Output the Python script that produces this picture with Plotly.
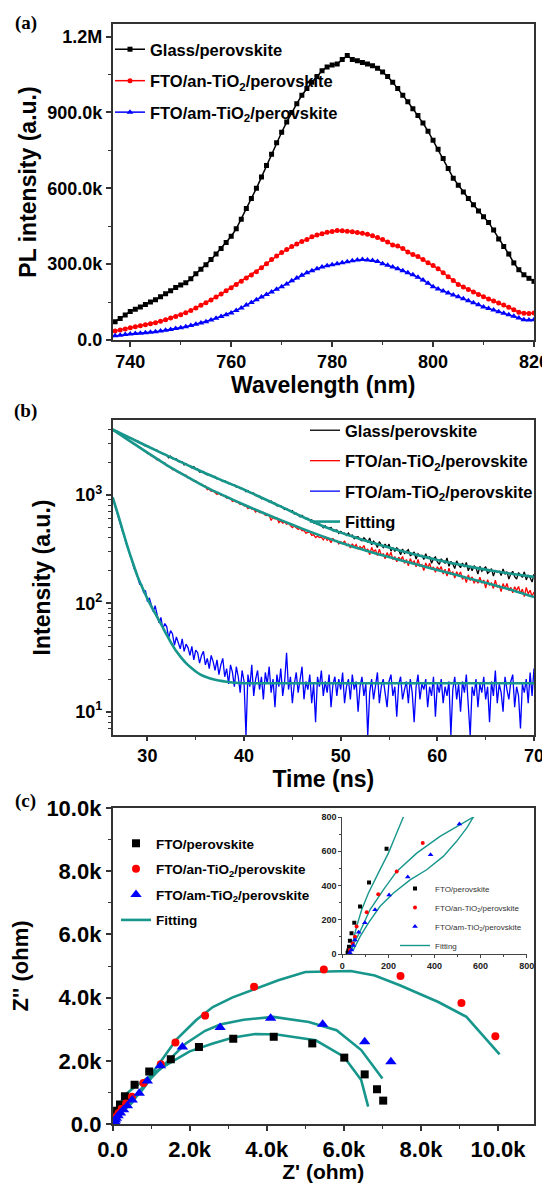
import numpy as np
import plotly.graph_objects as go

PAGE_W, PAGE_H = 550, 1183
OFF = 8                      # default <body> margin of the written html page
W, H = PAGE_W - OFF, PAGE_H - OFF
SANS = "Liberation Sans, Arial, sans-serif"
SERIF = "Liberation Serif, Times New Roman, serif"
TEAL = "#17968c"
AX = "#333333"

# ---------------- (a) steady-state PL ----------------
wavelength = list(range(736, 821))
pl_glass_k = [62, 72, 85, 99, 113, 122, 131, 140, 150, 159, 171, 183, 195, 208, 218, 226, 242, 262, 280, 298,
              318, 340, 362, 386, 410, 440, 478, 520, 560, 600, 645, 690, 735, 780, 822, 862, 900, 935, 968, 995,
              1020, 1042, 1065, 1080, 1088, 1092, 1110, 1125, 1110, 1105, 1098, 1092, 1085, 1075, 1060, 1042, 1020, 995, 968, 942,
              915, 888, 858, 826, 790, 755, 718, 678, 640, 612, 585, 560, 535, 510, 488, 465, 435, 400, 370, 340,
              305, 278, 258, 244, 232]
pl_an_k = [32, 36, 40, 44, 48, 52, 56, 60, 64, 68, 74, 80, 87, 93, 100, 108, 117, 127, 137, 147,
           158, 170, 182, 195, 207, 220, 232, 245, 257, 270, 286, 302, 318, 332, 346, 358, 370, 380, 390, 398,
           408, 415, 420, 426, 429, 433, 432, 430, 428, 425, 422, 418, 412, 405, 398, 388, 376, 372, 362, 348,
           338, 330, 318, 306, 295, 282, 266, 250, 235, 220, 210, 200, 190, 180, 171, 162, 154, 146, 138, 130,
           120, 110, 106, 105, 107]
pl_am_k = [14, 17, 19, 22, 24, 26, 27, 29, 31, 33, 36, 39, 42, 45, 48, 52, 57, 62, 67, 72,
           79, 86, 93, 100, 107, 117, 127, 138, 148, 159, 170, 180, 190, 201, 211, 222, 234, 245, 256, 266,
           274, 282, 289, 294, 298, 302, 306, 310, 313, 316, 318, 316, 314, 311, 302, 296, 289, 282, 274, 266,
           258, 248, 237, 224, 211, 202, 194, 186, 178, 171, 163, 155, 147, 139, 131, 125, 119, 112, 106, 100,
           94, 87, 80, 79, 80]

# ---------------- (b) TRPL ----------------
time_start, time_step = 26.4, 0.2
trpl_glass = [4000, 3887, 3897, 3759, 3725, 3571, 3559, 3522, 3397, 3310, 3315, 3231, 3144, 3143, 3004, 2995, 2915, 2823, 2840, 2752, 2678, 2669, 2586, 2577, 2464, 2456, 2375, 2369,
              2314, 2195, 2268, 2159, 2151, 2148, 2027, 2014, 2018, 1892, 1931, 1872, 1854, 1771, 1817, 1725, 1729, 1621, 1645, 1643, 1560,
              1527, 1544, 1505, 1464, 1477, 1403, 1409, 1372, 1327, 1348, 1304, 1269, 1275, 1233, 1239, 1177, 1182, 1141, 1147, 1118,
              1068, 1094, 1047, 1040, 1037, 985, 976, 975, 921, 933, 907, 897, 860, 877, 837, 836, 790, 797, 794, 758,
              732, 749, 727, 702, 716, 667, 676, 654, 626, 646, 619, 598, 607, 581, 589, 549, 557, 532, 539, 523, 496,
              519, 491, 494, 500, 467, 469, 475, 441, 460, 445, 444, 422, 444, 418, 425, 393, 407, 411, 387, 376,
              402, 385, 366, 400, 346, 373, 354, 327, 370, 344, 326, 351, 326, 351, 302, 327, 301, 324, 310, 280, 317,
              289, 299, 312, 275, 282, 297, 256, 286, 273, 277, 253, 286, 257, 271, 234, 256, 267, 240, 228, 257,
              247, 233, 262, 219, 243, 230, 209, 246, 226, 213, 235, 216, 238, 199, 220, 199, 222, 211, 186, 219, 197,
              206, 217, 189, 196, 209, 178, 202, 193, 198, 180, 207, 185, 196, 167, 187, 197, 176, 167, 192, 184, 173, 195, 164, 182, 172, 157, 186]
trpl_an = [4000, 3933, 3764, 3641, 3617, 3498, 3379, 3352, 3179, 3145, 3037, 2920, 2915, 2802, 2706, 2677, 2573, 2545,
           2397, 2401, 2286, 2289, 2208, 2091, 2127, 2021, 1993, 1971, 1858, 1828, 1813, 1701,
           1722, 1650, 1600, 1608, 1560, 1510, 1515, 1432, 1431, 1384, 1332, 1347, 1296, 1255, 1254, 1206, 1206,
           1116, 1126, 1080, 1090, 1058, 1010, 1034, 991, 984, 980, 930, 922, 921, 870, 882, 858, 848, 813, 828, 791,
           795, 746, 770, 736, 733, 694, 721, 685, 683, 687, 646, 644, 648, 580, 621, 598, 611, 555, 577, 548, 562,
           535, 548, 520, 499, 516, 499, 480, 492, 466, 470, 443, 451, 454, 423, 430, 403, 418, 403, 407, 385,
           409, 380, 391, 362, 397, 372, 379, 352, 369, 355, 375, 340, 350, 324, 353, 331, 348, 315, 334, 319,
           341, 302, 317, 280, 328, 297, 312, 275, 316, 277, 286, 257, 293, 267, 296, 253, 270, 241, 266, 250, 270,
           233, 253, 221, 258, 234, 245, 217, 253, 220, 227, 200, 235, 213, 234, 204, 216, 193, 217, 202, 218,
           186, 206, 178, 211, 186, 194, 171, 195, 179, 195, 166, 178, 155, 183, 162, 175, 153, 164, 153, 174, 153,
           164, 138, 165, 147, 154, 137, 163, 140, 146, 128, 152, 137, 152, 131, 140, 125, 142, 131, 143, 123, 135, 115, 140, 122, 132, 116, 127]
trpl_am = [940, 812, 722, 618, 551, 468, 421, 355, 322, 276, 252, 212, 199,
           168, 150, 148, 126, 131, 104, 112, 99, 84, 95,
           80, 66, 74, 58, 65, 61, 48, 56, 52, 41,
           49, 44, 38, 47, 36, 42, 39, 33, 40, 30,
           37, 35, 28, 33, 36, 27, 31, 25, 33, 29,
           24, 30, 22, 27, 31, 21, 25, 18, 27, 23,
           17, 26, 21, 15, 24, 19, 6, 22, 17, 27,
           14, 20, 24, 16, 21, 13, 23, 18, 26, 15,
           20, 11, 22, 17, 25, 14, 19, 35, 16, 21,
           12, 18, 23, 15, 20, 26, 13, 19, 16, 22,
           12, 18, 8, 21, 17, 24, 14, 19, 15, 22,
           11, 18, 21, 14, 20, 16, 23, 12, 17, 20,
           13, 22, 16, 19, 10, 17, 21, 14, 18, 6,
           15, 20, 13, 18, 23, 12, 17, 20, 15, 11,
           19, 22, 14, 17, 9, 18, 21, 13, 16, 19,
           12, 20, 15, 8, 17, 22, 13, 18, 16, 20,
           11, 17, 14, 21, 9, 18, 15, 20, 12, 17,
           14, 19, 6, 16, 21, 13, 18, 10, 19, 15,
           22, 12, 6, 17, 14, 20, 11, 18, 15, 21,
           13, 17, 8, 19, 14, 24, 12, 18, 15, 10,
           21, 16, 13, 19, 22, 11, 17, 14, 7, 18,
           15, 20, 12, 23, 14, 25]
assert len(trpl_glass) == len(trpl_an) == len(trpl_am) == 219, (len(trpl_glass), len(trpl_an), len(trpl_am))
time_ns = np.round(time_start + time_step * np.arange(len(trpl_glass)), 2)

fit_t = [26.4, 28, 30, 32, 34, 36, 38, 40, 42, 44, 46, 48, 50, 52, 54, 56, 58, 60, 62, 64, 66, 68, 70]
fit_glass = [4000, 3417, 2806, 2307, 1908, 1579, 1327, 1116, 924, 765, 630, 522, 448, 392, 346, 308, 277, 251, 230, 212, 197, 185, 175]
fit_an = [4000, 3213, 2446, 1882, 1485, 1184, 975, 810, 680, 575, 488, 418, 362, 318, 282, 252, 226, 203, 182, 163, 146, 130, 114]
fit_t_am = [26.4, 27, 27.5, 28, 28.5, 29, 29.5, 30, 30.5, 31, 31.5, 32, 32.5, 33, 33.5, 34, 34.5, 35, 35.5, 36, 37, 38, 39, 40, 45, 50, 55, 60, 65, 70]
fit_am = [950, 640, 450, 320, 235, 175, 138, 110, 90, 75, 62, 51, 42.5, 36, 31.5, 28, 25.5, 23.5, 22, 21, 19.7, 19, 18.5, 18.3, 18.3, 18.3, 18.3, 18.3, 18.3, 18.3]

# ---------------- (c) Nyquist (kOhm) ----------------
zre_fto = [0.023, 0.026, 0.029, 0.033, 0.040, 0.052, 0.077, 0.116, 0.192, 0.32, 0.57, 0.95, 1.51, 2.24, 3.13, 4.18, 5.18, 6.01, 6.54, 6.86, 7.02]
zim_fto = [0.008, 0.020, 0.043, 0.078, 0.121, 0.183, 0.277, 0.418, 0.615, 0.88, 1.24, 1.66, 2.05, 2.44, 2.70, 2.76, 2.55, 2.10, 1.57, 1.10, 0.74]
zre_an = [0.033, 0.045, 0.055, 0.062, 0.106, 0.156, 0.236, 0.349, 0.50, 0.80, 1.25, 1.63, 2.40, 3.67, 5.48, 7.47, 9.05, 9.93]
zim_an = [0.023, 0.062, 0.101, 0.160, 0.244, 0.349, 0.482, 0.648, 0.86, 1.30, 1.89, 2.58, 3.43, 4.34, 4.89, 4.68, 3.83, 2.78]
zre_am = [0.033, 0.040, 0.048, 0.055, 0.071, 0.098, 0.142, 0.203, 0.284, 0.383, 0.508, 0.69, 0.90, 1.24, 1.81, 2.79, 4.10, 5.45, 6.54, 7.22]
zim_am = [0.008, 0.023, 0.049, 0.082, 0.127, 0.183, 0.258, 0.345, 0.449, 0.579, 0.759, 0.97, 1.36, 1.84, 2.44, 3.05, 3.35, 3.16, 2.60, 1.97]

fitz_fto_re = [0.033, 0.036, 0.048, 0.062, 0.084, 0.113, 0.156, 0.200, 0.236, 0.265, 0.40, 0.60, 0.90, 1.30, 2.00, 2.60, 3.13, 3.70, 4.26, 5.27, 6.00, 6.45, 6.63]
fitz_fto_im = [0.000, 0.023, 0.082, 0.160, 0.258, 0.355, 0.472, 0.589, 0.706, 0.800, 1.00, 1.20, 1.45, 1.80, 2.30, 2.55, 2.74, 2.85, 2.83, 2.65, 2.13, 1.39, 0.55]
fitz_an_re = [0.033, 0.050, 0.077, 0.120, 0.178, 0.236, 0.323, 0.424, 0.569, 0.88, 1.30, 1.66, 2.17, 2.60, 3.10, 3.63, 4.30, 5.00, 6.18, 6.80, 7.45, 8.45, 9.18, 10.04]
fitz_an_im = [0.000, 0.060, 0.131, 0.258, 0.375, 0.482, 0.589, 0.687, 0.800, 1.35, 2.05, 2.68, 3.29, 3.70, 4.00, 4.25, 4.55, 4.81, 4.84, 4.70, 4.39, 3.86, 3.39, 2.20]
fitz_am_re = [0.048, 0.077, 0.113, 0.163, 0.221, 0.294, 0.366, 0.438, 0.496, 0.540, 0.569, 0.75, 1.00, 1.40, 1.90, 2.40, 2.79, 3.40, 4.17, 5.09, 5.81, 6.45, 7.00]
fitz_am_im = [0.023, 0.101, 0.180, 0.277, 0.355, 0.433, 0.492, 0.570, 0.658, 0.736, 0.800, 1.05, 1.45, 1.95, 2.55, 2.95, 3.15, 3.30, 3.39, 3.23, 2.97, 2.34, 1.44]

LBL_GLASS = "Glass/perovskite"
LBL_AN = "FTO/an-TiO<sub>2</sub>/perovskite"
LBL_AM = "FTO/am-TiO<sub>2</sub>/perovskite"
LBL_FTO = "FTO/perovskite"
LBL_FIT = "Fitting"


def k(v):
    return [x * 1000 for x in v]


def px_x(p):
    """page pixel -> paper fraction"""
    return (p - OFF) / W


def px_y(p):
    return 1 - (p - OFF) / H


fig = go.Figure()

# (a)
for name, vals, col, sym, sz in [(LBL_GLASS, pl_glass_k, "black", "square", 5),
                                 (LBL_AN, pl_an_k, "red", "circle", 5),
                                 (LBL_AM, pl_am_k, "blue", "triangle-up", 6)]:
    fig.add_trace(go.Scatter(x=wavelength, y=k(vals), mode="lines+markers", name=name,
                             line=dict(color=col, width=1.5), marker=dict(symbol=sym, size=sz, color=col),
                             xaxis="x", yaxis="y", legend="legend", legendgroup="a" + name))

# (b)
for name, vals, col in [(LBL_GLASS, trpl_glass, "black"), (LBL_AN, trpl_an, "red"), (LBL_AM, trpl_am, "blue")]:
    fig.add_trace(go.Scatter(x=time_ns, y=vals, mode="lines", name=name, line=dict(color=col, width=1.3),
                             xaxis="x2", yaxis="y2", legend="legend2", legendgroup="b" + name))
for i, (tt, vals) in enumerate([(fit_t, fit_glass), (fit_t, fit_an), (fit_t_am, fit_am)]):
    fig.add_trace(go.Scatter(x=tt, y=vals, mode="lines", name=LBL_FIT, showlegend=(i == 0),
                             line=dict(color=TEAL, width=2.6, shape="spline", smoothing=0.8),
                             xaxis="x2", yaxis="y2", legend="legend2", legendgroup="bfit"))

# (c) main + inset
for xa, ya, leg, msc, fw in [("x3", "y3", "legend3", 1.0, 2.6), ("x4", "y4", "legend4", 0.5, 1.4)]:
    for i, (fx, fy) in enumerate([(fitz_fto_re, fitz_fto_im), (fitz_an_re, fitz_an_im), (fitz_am_re, fitz_am_im)]):
        fig.add_trace(go.Scatter(x=k(fx), y=k(fy), mode="lines", name=LBL_FIT, showlegend=(i == 0),
                                 line=dict(color=TEAL, width=fw), xaxis=xa, yaxis=ya, legend=leg,
                                 legendgroup=leg + "fit", legendrank=10))
    for rank, (name, zx, zy, col, sym, sz) in enumerate([(LBL_FTO, zre_fto, zim_fto, "black", "square", 8),
                                                         (LBL_AN, zre_an, zim_an, "red", "circle", 8),
                                                         (LBL_AM, zre_am, zim_am, "blue", "triangle-up", 10)]):
        fig.add_trace(go.Scatter(x=k(zx), y=k(zy), mode="markers", name=name,
                                 marker=dict(symbol=sym, size=sz * msc, color=col),
                                 xaxis=xa, yaxis=ya, legend=leg, legendgroup=leg + name, legendrank=rank + 1))


def axis(size=18, **kw):
    d = dict(showline=True, linecolor=AX, linewidth=1.5, mirror=True, ticks="outside", ticklen=5,
             tickwidth=1.5, tickcolor=AX, showgrid=False, zeroline=False, automargin=False,
             ticklabeloverflow="allow",
             tickfont=dict(family=SANS, size=size, color="black", weight="bold"))
    d.update(kw)
    return d


def minor(vals, ln=3):
    return dict(ticks="outside", ticklen=ln, tickwidth=1.2, tickcolor=AX, tickmode="array", tickvals=vals, showgrid=False)


def title(text, size, standoff):
    return dict(text=text, font=dict(family=SANS, size=size, color="black", weight="bold"), standoff=standoff)


def inset_axis(**kw):
    d = dict(range=[0, 800], showline=True, linecolor="#444", linewidth=1, mirror=False, ticks="outside",
             ticklen=3, tickwidth=1, tickcolor="#444", showgrid=False, zeroline=False, automargin=False,
             tickmode="array", tickvals=[0, 200, 400, 600, 800],
             minor=dict(ticks="outside", ticklen=2, tickwidth=1, tickcolor="#444", tickmode="array",
                        tickvals=[100, 300, 500, 700]),
             tickfont=dict(family=SANS, size=9, color="#222", weight="bold"))
    d.update(kw)
    return d


xdom = [px_x(112.6), px_x(534)]
fig.update_layout(
    width=W, height=H, margin=dict(l=0, r=0, t=0, b=0),
    paper_bgcolor="white", plot_bgcolor="white",
    xaxis=axis(domain=xdom, anchor="y", range=[736.5, 820], tickmode="array", tickvals=[740, 760, 780, 800, 820],
               minor=minor([750, 770, 790, 810]), title=title("Wavelength (nm)", 23, 6)),
    yaxis=axis(domain=[px_y(340), px_y(24)], anchor="x", range=[0, 1.25e6], tickmode="array",
               tickvals=[0, 3e5, 6e5, 9e5, 1.2e6], ticktext=["0.0", "300.0k", "600.0k", "900.0k", "1.2M"],
               minor=minor([1.5e5, 4.5e5, 7.5e5, 10.5e5]), title=title("PL intensity (a.u.)", 23, 4)),
    xaxis2=axis(domain=xdom, anchor="y2", range=[26.4, 70], tickmode="array", tickvals=[30, 40, 50, 60, 70],
                ticklen=4, minor=minor([35, 45, 55, 65]), title=title("Time (ns)", 23, 0)),
    yaxis2=axis(domain=[px_y(735), px_y(420)], anchor="x2", type="log", range=[0.785, 3.69], tickmode="array",
                tickvals=[10, 100, 1000], ticktext=["10<sup>1</sup>", "10<sup>2</sup>", "10<sup>3</sup>"],
                minor=minor([7, 8, 9, 20, 30, 40, 50, 60, 70, 80, 90, 200, 300, 400, 500, 600, 700, 800, 900, 2000, 3000, 4000]),
                title=title("Intensity (a.u.)", 23, 18)),
    xaxis3=axis(size=22, domain=xdom, anchor="y3", range=[0, 11000 * (534 - 112.6) / (536.6 - 112.6)], tickmode="array",
                tickvals=[0, 2000, 4000, 6000, 8000, 10000], ticktext=["0.0", "2.0k", "4.0k", "6.0k", "8.0k", "10.0k"],
                minor=minor([1000, 3000, 5000, 7000, 9000]), title=title("Z' (ohm)", 21, 8)),
    yaxis3=axis(size=22, domain=[px_y(1124), px_y(808)], anchor="x3", range=[0, 10000], tickmode="array",
                tickvals=[0, 2000, 4000, 6000, 8000, 10000], ticktext=["0.0", "2.0k", "4.0k", "6.0k", "8.0k", "10.0k"],
                minor=minor([1000, 3000, 5000, 7000, 9000]), title=title("Z'' (ohm)", 22, 12)),
    xaxis4=inset_axis(domain=[px_x(342.3), px_x(526.7)], anchor="y4"),
    yaxis4=inset_axis(domain=[px_y(954), px_y(817)], anchor="x4"),
    legend=dict(x=px_x(110), y=px_y(32), xanchor="left", yanchor="top", bgcolor="rgba(0,0,0,0)",
                font=dict(family=SANS, size=16.5, color="black", weight="bold"), tracegroupgap=7, itemwidth=30),
    legend2=dict(x=px_x(305), y=px_y(413), xanchor="left", yanchor="top", bgcolor="rgba(0,0,0,0)",
                 font=dict(family=SANS, size=16.5, color="black", weight="bold"), tracegroupgap=6, itemwidth=30),
    legend3=dict(x=px_x(116), y=px_y(828), xanchor="left", yanchor="top", bgcolor="rgba(0,0,0,0)",
                 font=dict(family=SANS, size=13.5, color="black", weight="bold"), tracegroupgap=5, itemwidth=30),
    legend4=dict(x=px_x(395), y=px_y(874), xanchor="left", yanchor="top", bgcolor="rgba(0,0,0,0)",
                 font=dict(family=SANS, size=8, color="#333"), tracegroupgap=0, itemwidth=30),
    showlegend=True,
)

for txt, yy in [("(a)", 23.5), ("(b)", 411), ("(c)", 801)]:
    fig.add_annotation(text=txt, x=px_x(25.5), y=px_y(yy), xref="paper", yref="paper", showarrow=False,
                       font=dict(family=SERIF, size=19, color="black", weight="bold"), xanchor="center", yanchor="middle")

fig.write_html("out.html")
